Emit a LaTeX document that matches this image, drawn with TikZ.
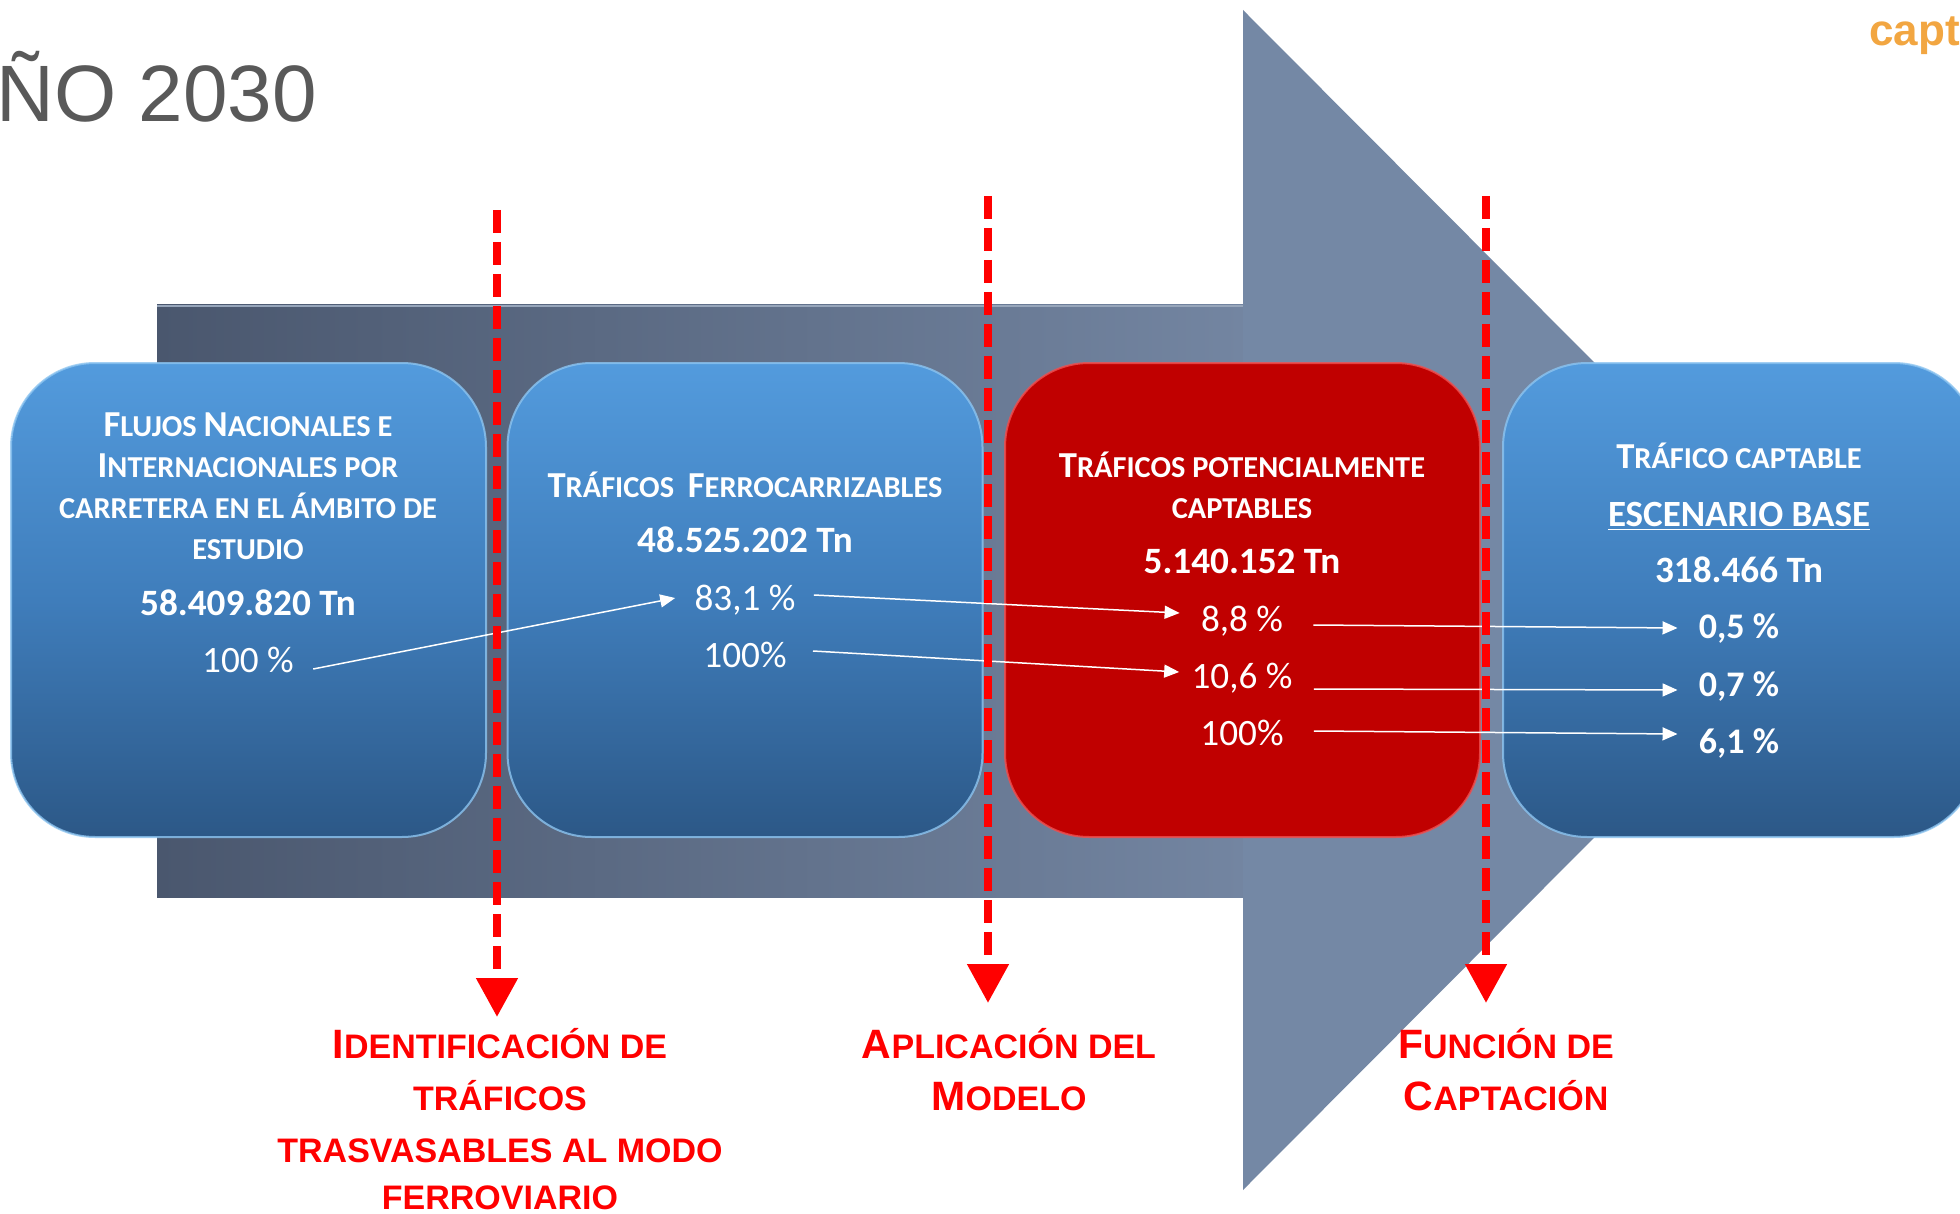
\documentclass[tikz,border=0pt]{standalone}
\usepackage{fontspec}
\setmainfont{Carlito}
\newfontfamily\arialf{Liberation Sans}
\usetikzlibrary{arrows.meta,calc}
\definecolor{ttlgray}{HTML}{595959}
\definecolor{captor}{HTML}{F2A641}
\definecolor{redlab}{HTML}{FF0000}
\definecolor{boxtop}{HTML}{539BDD}
\definecolor{boxmid}{HTML}{3F7DBB}
\definecolor{boxbot}{HTML}{2C5887}
\definecolor{boxrim}{HTML}{8CC4F0}
\definecolor{boxred}{HTML}{C00000}
\definecolor{redrim}{HTML}{F05050}
\definecolor{shaftL}{HTML}{4A576E}
\definecolor{shaftR}{HTML}{7385A1}
\definecolor{headc}{HTML}{7488A5}
\newcommand\bc[1]{{\fontsize{18.3pt}{21pt}\selectfont #1}}
\newcommand\rc[1]{{\fontsize{20.5pt}{26pt}\selectfont #1}}
\begin{document}
\begin{tikzpicture}[x=0.5pt,y=-0.5pt,
  boxbase/.style={rounded corners=42pt, minimum width=237.5pt, minimum height=237pt, inner sep=0pt, line width=1pt},
  bluebox/.style={boxbase, top color=boxtop, bottom color=boxbot, middle color=boxmid, draw=boxrim, draw opacity=0.8},
  redbox/.style={boxbase, fill=boxred, draw=redrim, draw opacity=0.8},
  hdr/.style={font=\fontsize{15.2pt}{21pt}\selectfont\bfseries, text=white, anchor=base, inner sep=0pt},
  num/.style={font=\fontsize{18.6pt}{21pt}\selectfont\bfseries, text=white, anchor=base, inner sep=0pt},
  pct/.style={font=\fontsize{18.6pt}{21pt}\selectfont, text=white, anchor=base, inner sep=0pt},
  pctb/.style={font=\fontsize{18pt}{21pt}\selectfont\bfseries, text=white, anchor=base, inner sep=0pt},
  conn/.style={white, line width=0.75pt, -{Triangle[length=7.5pt,width=6.5pt]}},
  reddash/.style={redlab, line width=4pt, dash pattern=on 11.5pt off 4.5pt, -{Triangle[length=19.5pt,width=20pt]}},
  redtxt/.style={font=\arialf\bfseries\fontsize{17pt}{26pt}\selectfont, text=redlab, anchor=base, inner sep=0pt}
]
\useasboundingbox (0,0) rectangle (1960,1214);
\fill[white] (0,0) rectangle (1960,1214);
% big arrow
\fill[left color=shaftL, right color=shaftR] (157,305) rectangle (1244,897);
\fill[headc] (1243,10) -- (1831,600) -- (1243,1190) -- cycle;
\draw[headc!75!white, line width=1pt] (157,306) -- (1243,306);
% title
\node[font=\arialf\fontsize{40pt}{48pt}\selectfont, text=ttlgray, anchor=base west, inner sep=0pt] (title) at (-4,122) {ÑO 2030};
\node[font=\arialf\bfseries\fontsize{22pt}{26pt}\selectfont, text=captor, anchor=base west, inner sep=0pt] (capt) at (1869,46) {capt};
% boxes
\node[bluebox] (B1) at (248.5,600) {};
\node[bluebox] (B2) at (745,600) {};
\node[redbox]  (B3) at (1242.5,600) {};
\node[bluebox] (B4) at (1740.5,600) {};
% box 1
\node[hdr] (b1h1) at (248,436) {\bc{F}LUJOS \bc{N}ACIONALES E};
\node[hdr] (b1h2) at (248,477) {\bc{I}NTERNACIONALES POR};
\node[hdr] (b1h3) at (248,518) {CARRETERA EN EL ÁMBITO DE};
\node[hdr] (b1h4) at (248,559) {ESTUDIO};
\node[num] (b1n) at (248,615) {58.409.820 Tn};
\node[pct] (b1p) at (248,672) {100 \%};
% box 2
\node[hdr] (b2h1) at (745,497) {\bc{T}RÁFICOS\ \ \bc{F}ERROCARRIZABLES};
\node[num] (b2n) at (745,552) {48.525.202 Tn};
\node[pct] (b2pa) at (745,610) {83,1 \%};
\node[pct] (b2pb) at (745,667) {100\%};
% box 3
\node[hdr] (b3h1) at (1242,477) {\bc{T}RÁFICOS POTENCIALMENTE};
\node[hdr] (b3h2) at (1242,518) {CAPTABLES};
\node[num] (b3n) at (1242,573) {5.140.152 Tn};
\node[pct] (b3pa) at (1242,631) {8,8 \%};
\node[pct] (b3pb) at (1242,688) {10,6 \%};
\node[pct] (b3pc) at (1242,745) {100\%};
% box 4
\node[hdr] (b4h1) at (1739,468) {\bc{T}RÁFICO CAPTABLE};
\node[font=\fontsize{18.5pt}{21pt}\selectfont\bfseries, text=white, anchor=base, inner sep=0pt] (b4e) at (1739,526) {\underline{ESCENARIO BASE}};
\node[num] (b4n) at (1739,582) {318.466 Tn};
\node[pctb] (b4pa) at (1739,638) {0,5 \%};
\node[pctb] (b4pb) at (1739,696) {0,7 \%};
\node[pctb] (b4pc) at (1739,753) {6,1 \%};
% connectors
\draw[conn] ($(b1p.base east)+(19,-3)$) -- ($(b2pa.base west)+(-19,-12)$);
\draw[conn] ($(b2pa.base east)+(18,-15)$) -- ($(b3pa.base west)+(-21,-18)$);
\draw[conn] ($(b2pb.base east)+(26,-16)$) -- ($(b3pb.base west)+(-12,-16)$);
\draw[conn] ($(b3pa.base east)+(30,-6)$) -- ($(b4pa.base west)+(-21,-10)$);
\draw[conn] ($(b3pb.base east)+(21,1)$) -- ($(b4pb.base west)+(-21,-6)$);
\draw[conn] ($(b3pc.base east)+(30,-14)$) -- ($(b4pc.base west)+(-21,-19)$);
% red dashed arrows
\coordinate (d1s) at (497,210); \coordinate (d1e) at (497,1017);
\coordinate (d2s) at (988,196); \coordinate (d2e) at (988,1003);
\coordinate (d3s) at (1486,196); \coordinate (d3e) at (1486,1003);
\draw[reddash] (d1s) -- (d1e);
\draw[reddash] (d2s) -- (d2e);
\draw[reddash] (d3s) -- (d3e);
% red labels
\node[redtxt] (l1a) at (500,1058) {\rc{I}DENTIFICACIÓN DE};
\node[redtxt] (l1b) at (500,1110) {TRÁFICOS};
\node[redtxt] (l1c) at (500,1162) {TRASVASABLES AL MODO};
\node[redtxt] (l1d) at (500,1209) {FERROVIARIO};
\node[redtxt] (l2a) at (1009,1058) {\rc{A}PLICACIÓN DEL};
\node[redtxt] (l2b) at (1009,1110) {\rc{M}ODELO};
\node[redtxt] (l3a) at (1506,1058) {\rc{F}UNCIÓN DE};
\node[redtxt] (l3b) at (1506,1110) {\rc{C}APTACIÓN};
\end{tikzpicture}
\end{document}
